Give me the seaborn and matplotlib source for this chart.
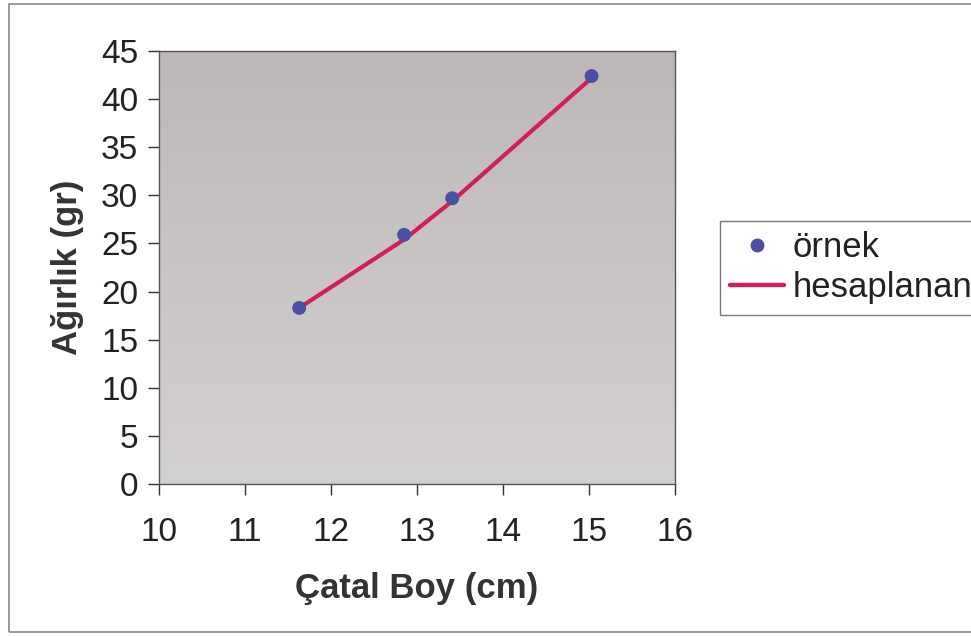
import matplotlib
matplotlib.use("Agg")
import matplotlib.pyplot as plt
import seaborn as sns
import pandas as pd
import numpy as np
from matplotlib.patches import Rectangle
from matplotlib.lines import Line2D
from matplotlib.colors import LinearSegmentedColormap

# Data
catal_boy = [11.63, 12.85, 13.41, 15.03]          # cm
ornek_agirlik = [18.3, 25.9, 29.7, 42.4]          # sample weights (gr)
hesaplanan_agirlik = [18.3, 25.4, 29.4, 42.2]     # computed weights (gr)

x_ticks = [10, 11, 12, 13, 14, 15, 16]
y_ticks = [0, 5, 10, 15, 20, 25, 30, 35, 40, 45]

df = pd.DataFrame({"boy": catal_boy, "ornek": ornek_agirlik, "hesap": hesaplanan_agirlik})

sns.set_style("ticks")
plt.rcParams["font.family"] = ["Liberation Sans", "DejaVu Sans"]

fig = plt.figure(figsize=(9.71, 6.36), dpi=100)
ax = fig.add_axes([159 / 971, 1 - 484 / 636, (675 - 159) / 971, (484 - 51) / 636])
ax.set_facecolor("#cac6c6")

# subtle vertical shading of the plot area (darker at top, lighter at bottom)
bg = LinearSegmentedColormap.from_list("bg", ["#d3d0d2", "#c9c5c5", "#bcb8b7"])
ax.imshow(np.linspace(0, 1, 256).reshape(-1, 1), cmap=bg, origin="lower",
          extent=(0, 1, 0, 1), transform=ax.transAxes, aspect="auto", zorder=0)

line_color = "#d11f5a"
dot_color = "#4b50a3"

sns.lineplot(data=df, x="boy", y="hesap", ax=ax, color=line_color, linewidth=3.0,
             sort=True, zorder=2)
sns.scatterplot(data=df, x="boy", y="ornek", ax=ax, color=dot_color, s=100,
                edgecolor="none", zorder=3)

ax.set_xlim(10, 16)
ax.set_ylim(0, 45)
ax.set_xticks(x_ticks)
ax.set_yticks(y_ticks)
ax.tick_params(axis="both", labelsize=24, length=8, width=1, color="#333333",
               labelcolor="#222222")
ax.tick_params(axis="y", pad=7)
ax.tick_params(axis="x", pad=16)
for s in ax.spines.values():
    s.set_color("#555555")
    s.set_linewidth(1.0)

ax.set_xlabel("Çatal Boy (cm)", fontsize=25, fontweight="bold", color="#333333", labelpad=17)
ax.set_ylabel("Ağırlık (gr)", fontsize=25, fontweight="bold", color="#333333", labelpad=12)

handles = [
    Line2D([], [], linestyle="none", marker="o", markersize=9, color=dot_color),
    Line2D([], [], color=line_color, linewidth=3.2),
]
leg = fig.legend(handles, ["örnek", "hesaplanan"], loc="upper left",
                 bbox_to_anchor=(720 / 971, 1 - 221 / 636), fontsize=25,
                 frameon=True, fancybox=False, handlelength=1.55,
                 handletextpad=0.25, borderpad=0.3, labelspacing=0.2,
                 borderaxespad=0)
leg.get_frame().set_edgecolor("#555555")
leg.get_frame().set_linewidth(1.0)
for t in leg.get_texts():
    t.set_color("#222222")

fig.patches.append(Rectangle((9 / 971, 4 / 636), 1.0, 628 / 636, transform=fig.transFigure,
                             fill=False, edgecolor="#888888", linewidth=1.2))

fig.savefig("out.png", dpi=100, facecolor="white")
